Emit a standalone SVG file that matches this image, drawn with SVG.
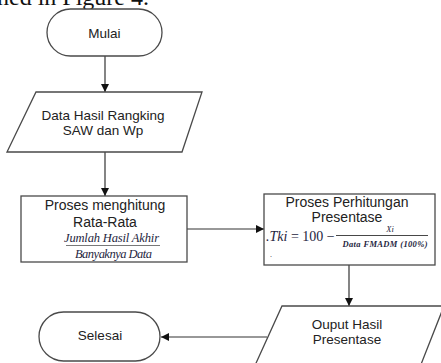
<svg xmlns="http://www.w3.org/2000/svg" width="441" height="363" viewBox="0 0 441 363">
<defs>
<style>
.shape{fill:#fff;stroke:#4a4a4a;stroke-width:1.3}
.lbl{font-family:"Liberation Sans",Arial,sans-serif;font-size:13.5px;fill:#222;text-anchor:middle}
.big{font-size:14px}
.conn{stroke:#333;stroke-width:1.2;fill:none}
.math{font-family:"Liberation Serif","DejaVu Serif",serif;fill:#1e2540}
.body{font-family:"Liberation Serif","Times New Roman",serif;font-size:24px;fill:#111}
</style>
<marker id="arr" viewBox="0 0 10 10" refX="10" refY="5" markerWidth="8" markerHeight="8" markerUnits="userSpaceOnUse" orient="auto">
<path d="M0,0 L10,5 L0,10 z" fill="#111"/>
</marker>
</defs>
<rect width="441" height="363" fill="#fff"/>
<text class="body" x="-3" y="5">ned in Figure 4.</text>

<g id="connectors">
<line class="conn" x1="105" y1="56" x2="105" y2="92" marker-end="url(#arr)"/>
<line class="conn" x1="105" y1="152" x2="105" y2="196" marker-end="url(#arr)"/>
<line class="conn" x1="187" y1="229" x2="264" y2="229" marker-end="url(#arr)"/>
<line class="conn" x1="349" y1="265" x2="349" y2="306" marker-end="url(#arr)"/>
<line class="conn" x1="267" y1="337" x2="161" y2="337" marker-end="url(#arr)"/>
</g>

<g id="mulai">
<rect class="shape" x="47" y="9" width="115" height="47" rx="23.5"/>
<text class="lbl" x="104.5" y="37.5">Mulai</text>
</g>

<g id="data-hasil">
<polygon class="shape" points="36,92 202,92 182,152 7,152"/>
<text class="lbl" x="103" y="119.5">Data Hasil Rangking</text>
<text class="lbl" x="103" y="135">SAW dan Wp</text>
</g>

<g id="proses-rata">
<rect class="shape" x="21" y="196" width="166" height="66"/>
<text class="lbl big" x="105" y="210">Proses menghitung</text>
<text class="lbl big" x="105" y="227">Rata-Rata</text>
<text class="math" x="111.5" y="242" font-size="12.5" font-style="italic" text-anchor="middle" textLength="95">Jumlah Hasil Akhir</text>
<line x1="66" y1="245.5" x2="160" y2="245.5" stroke="#555" stroke-width="0.8"/>
<text class="math" x="113.5" y="257.5" font-size="12.5" font-style="italic" text-anchor="middle" textLength="77">Banyaknya Data</text>
</g>

<g id="proses-presentase">
<rect class="shape" x="264" y="194" width="171" height="71"/>
<text class="lbl big" x="347" y="207">Proses Perhitungan</text>
<text class="lbl big" x="347" y="222">Presentase</text>
<text class="math" x="266" y="241" font-size="14"><tspan font-style="italic">.Tki</tspan> = 100 −</text>
<text class="math" x="390" y="231.5" font-size="8.5" font-style="italic" text-anchor="middle">Xi</text>
<line x1="336" y1="235.5" x2="428" y2="235.5" stroke="#333" stroke-width="0.9"/>
<text class="math" x="385" y="247" font-size="8.5" font-weight="bold" font-style="italic" text-anchor="middle" textLength="85">Data FMADM (100%)</text>
<text class="math" x="270" y="257" font-size="8" fill="#3050a0">.</text>
</g>

<g id="output">
<polygon class="shape" points="282,306 444,306 418,372 252,372"/>
<text class="lbl" x="347" y="329">Ouput Hasil</text>
<text class="lbl" x="347" y="343.5">Presentase</text>
</g>

<g id="selesai">
<rect class="shape" x="39" y="312" width="121" height="49" rx="24.5"/>
<text class="lbl" x="100" y="340">Selesai</text>
</g>
</svg>
